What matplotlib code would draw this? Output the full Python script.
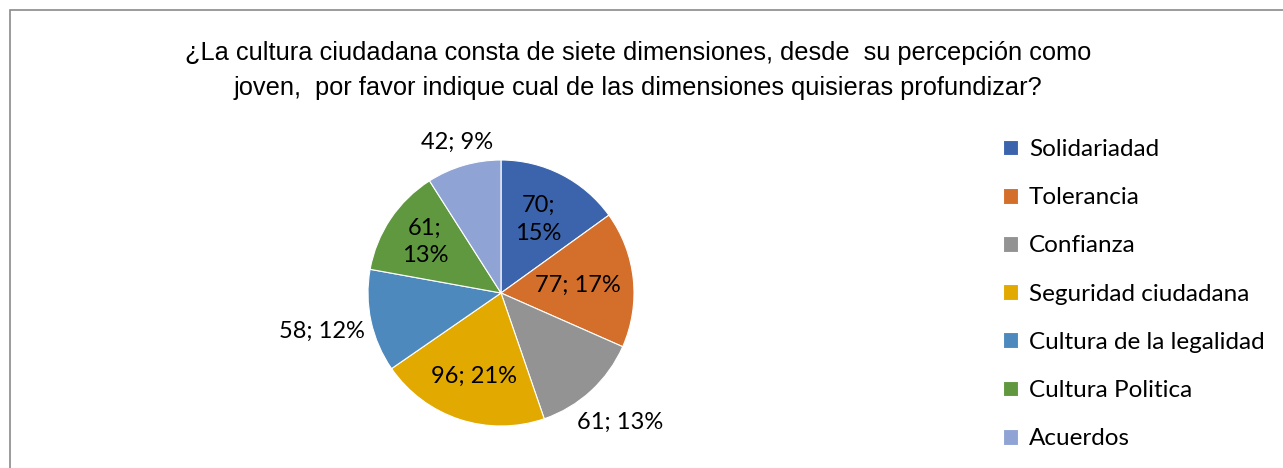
import matplotlib.pyplot as plt
import numpy as np
from matplotlib.patches import Rectangle

title = ("¿La cultura ciudadana consta de siete dimensiones, desde  su percepción como\n"
         "joven,  por favor indique cual de las dimensiones quisieras profundizar?")
categories = ["Solidariadad", "Tolerancia", "Confianza", "Seguridad ciudadana",
              "Cultura de la legalidad", "Cultura Politica", "Acuerdos"]
values = [70, 77, 61, 96, 58, 61, 42]

colors = ["#3B64AD", "#D46E2B", "#939393", "#E2A900", "#4E89BE", "#5F983F", "#8FA3D4"]
# where each data label sits (fraction of radius) and whether it wraps
label_radius = [0.62, 0.58, 1.32, 0.66, 1.38, 0.69, 1.18]
label_wrap = [True, False, False, False, False, True, False]

W, H = 1283, 468
fig = plt.figure(figsize=(W / 100, H / 100), dpi=100)

# outer chart frame
fig.patches.append(Rectangle((10 / W, -0.5), 2, 1.5 - 10 / H, transform=fig.transFigure,
                             fill=False, edgecolor="#8a8a8a", linewidth=1.2))

fig.text(638 / W, 1 - 70.5 / H, title, ha="center", va="center", fontsize=18.3,
         family="Liberation Sans", linespacing=1.6)

cx, cy, r = 501, 293, 133
ax = fig.add_axes([(cx - r) / W, (H - cy - r) / H, 2 * r / W, 2 * r / H])
wedges, _ = ax.pie(values, colors=colors, startangle=90, counterclock=False,
                   wedgeprops=dict(edgecolor="white", linewidth=0.8))
ax.set_xlim(-1, 1)
ax.set_ylim(-1, 1)
ax.set_aspect("equal")
ax.axis("off")

total = sum(values)
for w, v, lr, wrap in zip(wedges, values, label_radius, label_wrap):
    ang = np.deg2rad((w.theta1 + w.theta2) / 2)
    pct = round(v / total * 100)
    sep = ";\n" if wrap else "; "
    ax.text(lr * np.cos(ang), lr * np.sin(ang), f"{v}{sep}{pct}%", ha="center", va="center",
            fontsize=17, family="Lato", linespacing=1.4, clip_on=False)

fig.legend(wedges, categories, loc="upper left", bbox_to_anchor=(1003 / W, 1 - 139 / H),
           frameon=False, prop=dict(family="Lato", size=17.5), handlelength=0.62,
           handleheight=0.62, handletextpad=0.45, labelspacing=1.12, borderpad=0,
           borderaxespad=0)

fig.savefig("out.png", dpi=100)
